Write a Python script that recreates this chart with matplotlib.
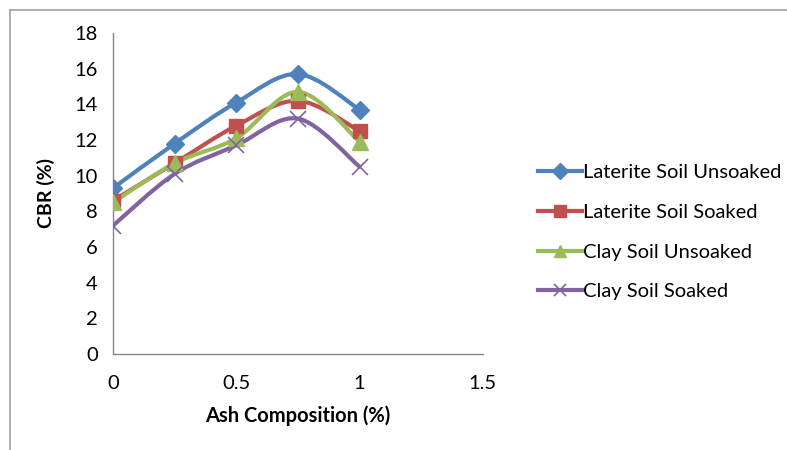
import matplotlib
matplotlib.use("Agg")
import matplotlib.pyplot as plt
from matplotlib.path import Path
from matplotlib.patches import PathPatch
from matplotlib.lines import Line2D
import numpy as np

plt.rcParams['font.family'] = ['Lato', 'DejaVu Sans']

ash = [0, 0.25, 0.5, 0.75, 1.0]
laterite_unsoaked = [9.3, 11.8, 14.1, 15.7, 13.7]
laterite_soaked = [8.6, 10.7, 12.8, 14.2, 12.5]
clay_unsoaked = [8.5, 10.7, 12.1, 14.7, 11.9]
clay_soaked = [7.2, 10.1, 11.7, 13.2, 10.5]

series = [
    ("Laterite Soil Unsoaked", laterite_unsoaked, "#4F81BD", "D", 9),
    ("Laterite Soil Soaked", laterite_soaked, "#C0504D", "s", 10),
    ("Clay Soil Unsoaked", clay_unsoaked, "#9BBB59", "^", 11),
    ("Clay Soil Soaked", clay_soaked, "#8064A2", "x", 11),
]

fig = plt.figure(figsize=(7.87, 4.5), dpi=100)
ax = fig.add_axes([0.1436, 0.2133, 0.47, 0.7134])


def smooth_path(x, y, t=1/6):
    x = np.asarray(x, float); y = np.asarray(y, float)
    pts = np.column_stack([x, y])
    verts = [pts[0]]
    codes = [Path.MOVETO]
    n = len(pts)
    for i in range(n - 1):
        p0 = pts[i - 1] if i > 0 else pts[i]
        p1 = pts[i]
        p2 = pts[i + 1]
        p3 = pts[i + 2] if i + 2 < n else pts[i + 1]
        c1 = p1 + (p2 - p0) * t
        c2 = p2 - (p3 - p1) * t
        verts += [c1, c2, p2]
        codes += [Path.CURVE4] * 3
    return Path(verts, codes)


handles = []
for name, vals, col, mk, ms in series:
    patch = PathPatch(smooth_path(ash, vals), facecolor='none', edgecolor=col,
                      lw=3.0, zorder=2, capstyle='round', joinstyle='round')
    ax.add_patch(patch)
    if mk == 'x':
        ax.plot(ash, vals, ls='none', marker=mk, ms=ms, mew=1.2, color=col, zorder=3)
    else:
        ax.plot(ash, vals, ls='none', marker=mk, ms=ms, color=col, mec=col, zorder=3)
    handles.append(Line2D([], [], color=col, lw=3.0, marker=mk, ms=ms * 0.85,
                          mew=1.2 if mk == 'x' else 1, label=name))

ax.set_xlim(0, 1.5)
ax.set_ylim(0, 18)
ax.set_xticks([0, 0.5, 1, 1.5])
ax.set_xticklabels(["0", "0.5", "1", "1.5"])
ax.set_yticks(range(0, 19, 2))
for s in ['top', 'right']:
    ax.spines[s].set_visible(False)
for s in ['left', 'bottom']:
    ax.spines[s].set_color('#868686')
    ax.spines[s].set_linewidth(1.0)
ax.tick_params(axis='both', length=0, labelsize=14.5, colors='black')
ax.tick_params(axis='x', pad=15)
ax.tick_params(axis='y', pad=11)
ax.set_xlabel("Ash Composition (%)", fontsize=14.5, fontweight='bold', labelpad=10)
ax.set_ylabel("CBR (%)", fontsize=14, fontweight='bold', labelpad=14)

fig.legend(handles=handles, loc='center left', bbox_to_anchor=(0.661, 0.484),
           frameon=False, fontsize=14.5, handlelength=2.15, labelspacing=1.12,
           handletextpad=0.05)

# outer chart border (partially visible)
fig.add_artist(Line2D([10 / 787, 10 / 787], [0, 1 - 10 / 450], transform=fig.transFigure,
                      color='#A0A0A0', lw=1.2))
fig.add_artist(Line2D([10 / 787, 1], [1 - 10 / 450, 1 - 10 / 450], transform=fig.transFigure,
                      color='#A0A0A0', lw=1.2))

fig.savefig("out.png", dpi=100)
